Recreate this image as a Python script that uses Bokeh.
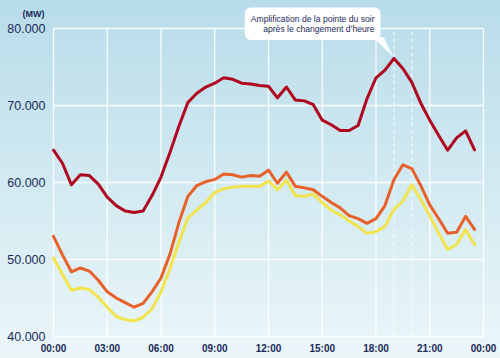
from bokeh.plotting import figure
from bokeh.models import FixedTicker, Label, LinearAxis, GlobalInlineStyleSheet
from bokeh.embed import file_html
from bokeh.resources import INLINE

# ---- data ----
hours = [h / 2 for h in range(48)]  # 00:00 .. 23:30, half-hour steps
red = [64.2, 62.5, 59.7, 61.0, 60.9, 59.8, 58.1, 57.0, 56.3, 56.1, 56.3, 58.3,
       60.7, 63.9, 67.3, 70.4, 71.6, 72.4, 72.9, 73.6, 73.4, 72.9, 72.8, 72.6,
       72.5, 71.0, 72.4, 70.7, 70.6, 70.1, 68.1, 67.5, 66.75, 66.75, 67.4, 70.9,
       73.6, 74.6, 76.1, 74.8, 73.0, 70.3, 68.1, 66.1, 64.2, 65.8, 66.7, 64.25]
orange = [53.0, 50.6, 48.4, 48.9, 48.5, 47.3, 45.8, 45.0, 44.4, 43.8, 44.3, 45.8,
          47.6, 50.7, 54.8, 58.2, 59.6, 60.1, 60.4, 61.1, 61.0, 60.7, 60.9, 60.8,
          61.6, 59.9, 61.35, 59.5, 59.3, 59.05, 58.2, 57.4, 56.7, 55.7, 55.3, 54.7,
          55.3, 57.0, 60.35, 62.3, 61.8, 59.6, 57.1, 55.3, 53.4, 53.55, 55.6, 53.9]
yellow = [50.2, 48.05, 46.0, 46.3, 46.1, 45.1, 43.8, 42.6, 42.2, 42.0, 42.5, 43.6,
          45.8, 48.8, 52.25, 55.4, 56.4, 57.4, 58.7, 59.2, 59.4, 59.5, 59.5, 59.5,
          60.2, 59.05, 60.3, 58.3, 58.2, 58.5, 57.4, 56.4, 55.8, 55.0, 54.3, 53.4,
          53.6, 54.3, 56.5, 57.6, 59.7, 57.75, 55.7, 53.4, 51.3, 51.95, 53.9, 51.95]
x_ticks = [0, 3, 6, 9, 12, 15, 18, 21, 24]
x_labels = ["00:00", "03:00", "06:00", "09:00", "12:00", "15:00", "18:00", "21:00", "00:00"]
y_ticks = [40000, 50000, 60000, 70000, 80000]
y_labels = ["40.000", "50.000", "60.000", "70.000", "80.000"]
dashed_hours = [19, 20]
unit_label = "(MW)"
note = "Amplification de la pointe du soir\naprès le changement d\u2019heure"

NAVY = "#1b2a58"
FONT = "Liberation Sans"
GRAD = "linear-gradient(to bottom, #b8dcea 0%, #d4ebf2 55%, #ebf6f9 100%)"

X0, X1 = x_ticks[0], x_ticks[-1]
Y0, Y1 = y_ticks[0], y_ticks[-1]
PXH = 430 / (X1 - X0)          # pixels per hour
PXV = 308 / (Y1 - Y0)          # pixels per MW

p = figure(width=500, height=358,
           x_range=(X0 - 53 / PXH, X1 + 17 / PXH),
           y_range=(Y0 - 22 / PXV, Y1 + 28 / PXV),
           x_axis_location=None, y_axis_location=None,
           output_backend="svg", toolbar_location=None,
           min_border=0, min_border_left=0, min_border_right=0,
           min_border_top=0, min_border_bottom=0)
p.stylesheets = [GlobalInlineStyleSheet(css="body{margin:0;padding:0;background:#ebf6f9;overflow:hidden;}")]
p.styles = {"background": GRAD}
p.border_fill_color = None
p.background_fill_color = None
p.outline_line_color = None
p.xgrid.visible = False
p.ygrid.visible = False

# grid lines limited to the plotting area
p.segment(x0=[X0] * len(y_ticks), x1=[X1] * len(y_ticks), y0=y_ticks, y1=y_ticks,
          line_color="white", line_width=1.3, line_alpha=0.9)
p.segment(x0=x_ticks, x1=x_ticks, y0=[Y0] * len(x_ticks), y1=[Y1] * len(x_ticks),
          line_color="white", line_width=1.3, line_alpha=0.9)
p.segment(x0=dashed_hours, x1=dashed_hours, y0=[Y0] * 2, y1=[Y1] * 2,
          line_color="white", line_width=1, line_alpha=0.9, line_dash="4 3")

# axes placed at the edges of the plotting area
xaxis = LinearAxis(fixed_location=Y0, ticker=FixedTicker(ticks=x_ticks),
                   major_label_overrides={t: l for t, l in zip(x_ticks, x_labels)})
yaxis = LinearAxis(fixed_location=X0, ticker=FixedTicker(ticks=y_ticks),
                   major_label_overrides={t: l for t, l in zip(y_ticks, y_labels)})
for ax in (xaxis, yaxis):
    ax.axis_line_color = None
    ax.major_tick_line_color = None
    ax.minor_tick_line_color = None
    ax.major_tick_in = 0
    ax.major_tick_out = 0
    ax.major_label_text_color = NAVY
    ax.major_label_text_font = FONT
xaxis.major_label_text_font_size = "10px"
xaxis.major_label_text_font_style = "bold"
xaxis.major_label_standoff = 6
yaxis.major_label_text_font_size = "12.5px"
yaxis.major_label_standoff = 8
p.add_layout(xaxis, "below")
p.add_layout(yaxis, "left")

# series
for vals, col in ((red, "#b0061f"), (orange, "#e8612a"), (yellow, "#f1e44c")):
    p.line(hours, [v * 1000 for v in vals], line_color=col, line_width=3,
           line_join="round", line_cap="round")

# callout pointer + box
box_bottom = Y1 - 9 / PXV
tip = (dashed_hours[0] - 0.1, Y1 - 27 / PXV)
p.patch([17.86, 18.42, tip[0]], [box_bottom, box_bottom, tip[1]], fill_color="white",
        line_color="white", line_width=0.5)

p.add_layout(Label(x=X0 + 327 / PXH, y=Y1 + 21 / PXV, text=note,
                   text_align="right", text_baseline="top",
                   text_font=FONT, text_font_size="8.6px", text_color=NAVY,
                   text_line_height=1.05, background_fill_color="white",
                   border_radius=6, padding=6))

p.add_layout(Label(x=X0 - 31 / PXH, y=Y1 + 15 / PXV, text=unit_label, text_align="left",
                   text_baseline="middle", text_font=FONT, text_font_size="9px",
                   text_font_style="bold", text_color=NAVY))

open("out.html", "w").write(file_html(p, INLINE))
